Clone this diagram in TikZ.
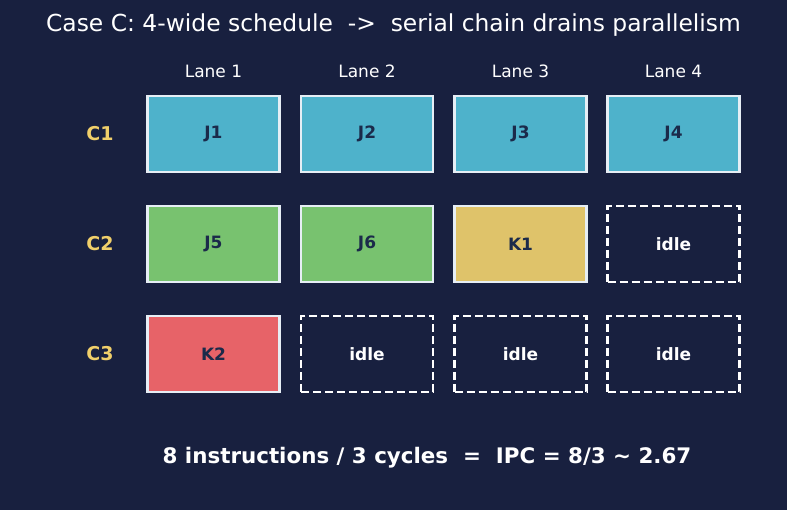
\documentclass[tikz,border=0pt]{standalone}
\usepackage{fontspec}
\setmainfont{DejaVu Sans}
\definecolor{bg}{HTML}{18203F}
\definecolor{cellborder}{HTML}{E6EEF5}
\definecolor{boxtext}{HTML}{1B2A4A}
\definecolor{cblue}{HTML}{4EB2CB}
\definecolor{cgreen}{HTML}{78C26F}
\definecolor{cyellow}{HTML}{DFC36A}
\definecolor{cred}{HTML}{E76368}
\definecolor{rowlab}{HTML}{F0CF6A}
\begin{document}
\begin{tikzpicture}[x=1pt,y=-1pt,
  cell/.style={draw=cellborder, line width=2.4pt, minimum width=132pt, minimum height=76pt, inner sep=0pt,
    font=\bfseries\fontsize{17}{17}\selectfont, text=boxtext},
  busy/.style={cell, fill=#1},
  idlecell/.style={cell, draw=white, dash pattern=on 8pt off 4pt, text=white},
  lanelab/.style={text=white, font=\fontsize{17}{17}\selectfont},
  rowlabel/.style={text=rowlab, font=\bfseries\fontsize{19}{19}\selectfont}]
\fill[bg] (0,0) rectangle (787,510);
\useasboundingbox (0,0) rectangle (787,510);
\node[text=white, font=\fontsize{23.4}{23.4}\selectfont] (title) at (393.5,25.5) {Case C: 4-wide schedule\ \ ->\ \ serial chain drains parallelism};
\node[lanelab] (l1) at (213.5,71) {Lane 1};
\node[lanelab] (l2) at (367,71) {Lane 2};
\node[lanelab] (l3) at (520.5,71) {Lane 3};
\node[lanelab] (l4) at (673.5,71) {Lane 4};
\node[rowlabel] (c1) at (100,134) {C1};
\node[rowlabel] (c2) at (100,244) {C2};
\node[rowlabel] (c3) at (100,354) {C3};
\node[busy=cblue] (j1) at (213.5,134) {J1};
\node[busy=cblue] (j2) at (367,134) {J2};
\node[busy=cblue] (j3) at (520.5,134) {J3};
\node[busy=cblue] (j4) at (673.5,134) {J4};
\node[busy=cgreen] (j5) at (213.5,244) {J5};
\node[busy=cgreen] (j6) at (367,244) {J6};
\node[busy=cyellow] (k1) at (520.5,244) {K1};
\node[idlecell] (i24) at (673.5,244) {idle};
\node[busy=cred] (k2) at (213.5,354) {K2};
\node[idlecell] (i32) at (367,354) {idle};
\node[idlecell] (i33) at (520.5,354) {idle};
\node[idlecell] (i34) at (673.5,354) {idle};
\node[text=white, font=\bfseries\fontsize{21.4}{21.4}\selectfont] (ipc) at (427,458) {8 instructions / 3 cycles\ \ =\ \ IPC = 8/3 \textasciitilde\ 2.67};
\end{tikzpicture}
\end{document}
